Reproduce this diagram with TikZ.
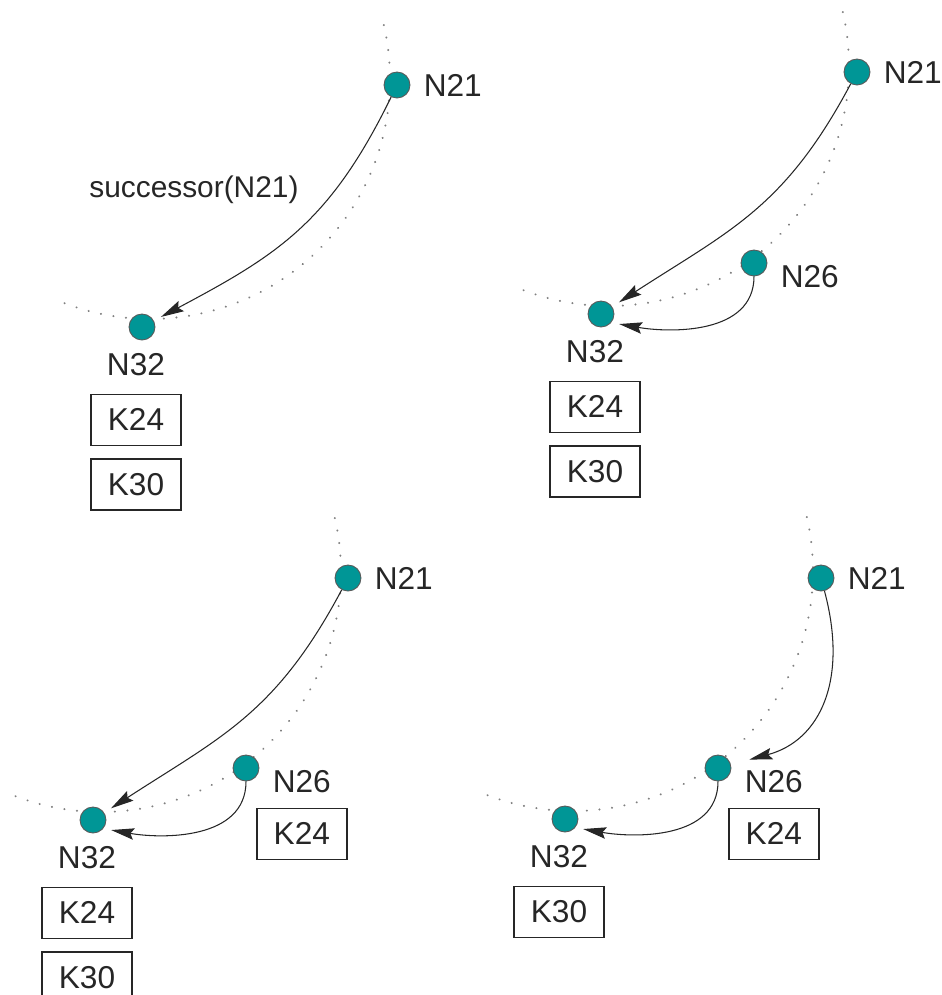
\documentclass[tikz,border=0pt]{standalone}
\usepackage{fontspec}
\setmainfont{Liberation Sans}
\usetikzlibrary{arrows.meta,positioning}

\definecolor{peerteal}{RGB}{0,150,150}

\tikzset{
  peer/.style = {circle, fill=peerteal, draw=black!65, line width=0.5pt,
    minimum size=0.52cm, inner sep=0pt},
  lbl/.style = {inner sep=0pt, text=black!85, font=\fontsize{18}{20}\selectfont},
  keybox/.style = {draw=black!85, line width=1pt, minimum width=1.8cm,
    minimum height=1.02cm, inner sep=0pt, text=black!85,
    font=\fontsize{18}{20}\selectfont},
  ring/.style = {black!50, line width=1.2pt, dash pattern=on 0.1pt off 7.1pt,
    line cap=round},
  link/.style = {black!85, line width=0.6pt,
    -{Stealth[length=0.46cm, width=0.23cm, inset=0.07cm]}, shorten >=0.16cm}
}

\begin{document}
\begin{tikzpicture}[x=0.02cm, y=0.02cm]
\useasboundingbox (0,0) rectangle (942,-995);

\draw[ring] (150,-79) ++(13:4.8cm) arc[start angle=13, end angle=-111, radius=4.8cm];
\node[peer] (a21) at (397,-85) {};
\node[peer] (a32) at (142,-327) {};
\draw[link] (a21) to[out=244, in=28, looseness=1.1] (a32);
\node[lbl, right=0.26cm of a21] (a21l) {N21};
\node[lbl, below=0.26cm of a32, xshift=-0.12cm] (a32l) {N32};
\node[keybox, below=0.34cm of a32l] (a32k24) {K24};
\node[keybox, below=0.24cm of a32k24] (a32k30) {K30};
\node[lbl, font=\fontsize{17}{20}\selectfont, anchor=west] (succ) at (89,-190) {successor(N21)};

\draw[ring] (609,-66) ++(13:4.8cm) arc[start angle=13, end angle=-111, radius=4.8cm];
\node[peer] (b21) at (857,-72) {};
\node[peer] (b26) at (754,-263) {};
\node[peer] (b32) at (601,-314) {};
\draw[link] (b21) to[out=242, in=33, looseness=1.1] (b32);
\draw[link] (b26) to[out=270, in=-10] (b32.-40);
\node[lbl, right=0.26cm of b21] (b21l) {N21};
\node[lbl, right=0.26cm of b26, yshift=-0.28cm] (b26l) {N26};
\node[lbl, below=0.26cm of b32, xshift=-0.12cm] (b32l) {N32};
\node[keybox, below=0.34cm of b32l] (b32k24) {K24};
\node[keybox, below=0.24cm of b32k24] (b32k30) {K30};

\draw[ring] (101,-572) ++(13:4.8cm) arc[start angle=13, end angle=-111, radius=4.8cm];
\node[peer] (c21) at (348,-578) {};
\node[peer] (c26) at (246,-768) {};
\node[peer] (c32) at (93,-820) {};
\draw[link] (c21) to[out=242, in=33, looseness=1.1] (c32);
\draw[link] (c26) to[out=270, in=-10] (c32.-40);
\node[lbl, right=0.26cm of c21] (c21l) {N21};
\node[lbl, right=0.26cm of c26, yshift=-0.28cm] (c26l) {N26};
\node[keybox, below=0.28cm of c26l] (c26k24) {K24};
\node[lbl, below=0.26cm of c32, xshift=-0.12cm] (c32l) {N32};
\node[keybox, below=0.34cm of c32l] (c32k24) {K24};
\node[keybox, below=0.24cm of c32k24] (c32k30) {K30};

\draw[ring] (573,-571) ++(13:4.8cm) arc[start angle=13, end angle=-111, radius=4.8cm];
\node[peer] (d21) at (821,-578) {};
\node[peer] (d26) at (718,-768) {};
\node[peer] (d32) at (565,-819) {};
\draw[link, shorten >=0.38cm] (d21) to[out=285, in=15, looseness=1.2] (d26);
\draw[link] (d26) to[out=270, in=-10] (d32.-40);
\node[lbl, right=0.26cm of d21] (d21l) {N21};
\node[lbl, right=0.26cm of d26, yshift=-0.28cm] (d26l) {N26};
\node[keybox, below=0.28cm of d26l] (d26k24) {K24};
\node[lbl, below=0.26cm of d32, xshift=-0.12cm] (d32l) {N32};
\node[keybox, below=0.34cm of d32l] (d32k30) {K30};

\end{tikzpicture}
\end{document}
